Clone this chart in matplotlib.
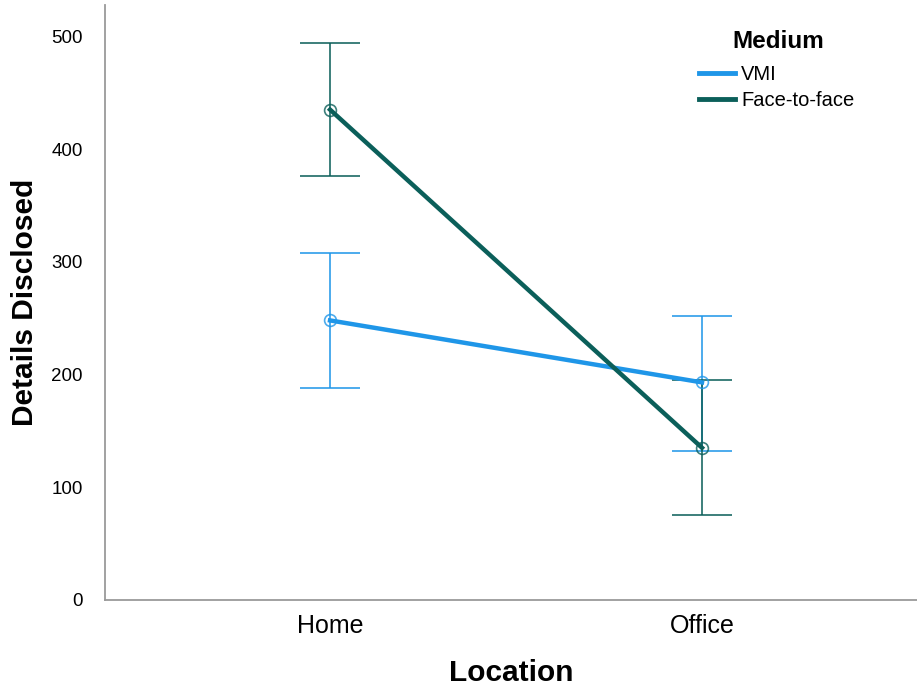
import matplotlib
matplotlib.use("Agg")
import matplotlib.pyplot as plt
from matplotlib.lines import Line2D

plt.rcParams['font.family'] = ['Liberation Sans', 'DejaVu Sans']

# data
locations = ["Home", "Office"]
vmi_mean = [248, 193]
vmi_low = [188, 132]
vmi_high = [308, 252]
f2f_mean = [435, 135]
f2f_low = [376, 75]
f2f_high = [494, 195]

c_vmi = "#1f96e8"
c_f2f = "#0b5f5a"

fig = plt.figure(figsize=(9.17, 6.88), dpi=100)
ax = fig.add_axes([0.1145, 0.128, 0.8855, 0.865])

x = list(range(len(locations)))

for mean, lo, hi, col, lab in [(vmi_mean, vmi_low, vmi_high, c_vmi, "VMI"),
                               (f2f_mean, f2f_low, f2f_high, c_f2f, "Face-to-face")]:
    err = [[m - l for m, l in zip(mean, lo)], [h - m for m, h in zip(mean, hi)]]
    ax.errorbar(x, mean, yerr=err, fmt="none", ecolor=col, elinewidth=1.4,
                capsize=21.5, capthick=1.4, alpha=0.8, zorder=2)
    ax.plot(x, mean, color=col, lw=3.2, label=lab, zorder=3)
    ax.plot(x, mean, ls="none", marker="o", ms=8.5, mfc="none", mec=col,
            mew=1.2, alpha=0.8, zorder=4)

ax.set_xlim(-0.605, 1.578)
ax.set_ylim(0, 528)
ax.set_yticks([0, 100, 200, 300, 400, 500])
ax.set_xticks(x)
ax.set_xticklabels(locations, fontsize=18)
ax.tick_params(axis="y", labelsize=13.5, length=0, pad=16)
ax.tick_params(axis="x", length=0, pad=10)

for s in ["top", "right"]:
    ax.spines[s].set_visible(False)
for s in ["left", "bottom"]:
    ax.spines[s].set_color("#9a9a9a")
    ax.spines[s].set_linewidth(1.3)

ax.set_xlabel("Location", fontsize=21.5, fontweight="bold", labelpad=15)
ax.set_ylabel("Details Disclosed", fontsize=21.5, fontweight="bold", labelpad=9)

# legend (title drawn separately to get the wider gap)
handles = [Line2D([], [], color=c_vmi, lw=3.5), Line2D([], [], color=c_f2f, lw=3.5)]
leg = ax.legend(handles, ["VMI", "Face-to-face"], loc="upper left",
                bbox_to_anchor=(0.7448, 0.9287), bbox_transform=fig.transFigure,
                frameon=False, fontsize=14.5, handlelength=1.8, handletextpad=0.3,
                labelspacing=0.35, borderpad=0.3)
fig.text(0.8484, 0.9404, "Medium", fontsize=17.5, fontweight="bold",
         ha="center", va="center")

fig.savefig("out.png", dpi=100)
